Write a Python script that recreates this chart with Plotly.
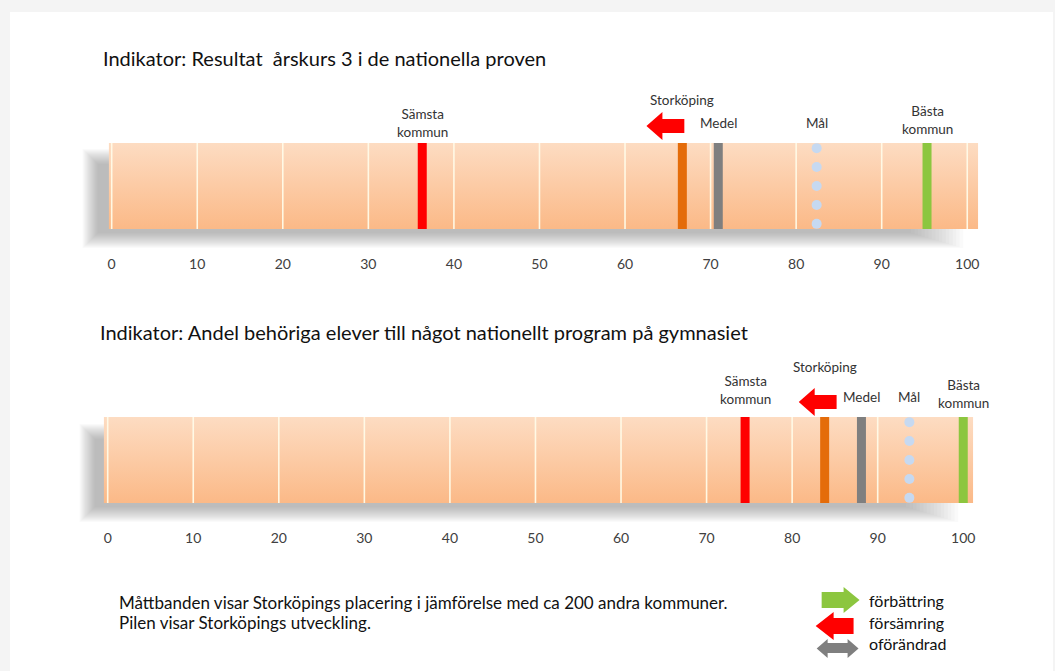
import numpy as np
import plotly.graph_objects as go

W, H = 1055, 671

# ---------------- data ----------------
categories = ["Sämsta kommun", "Storköping", "Medel", "Mål", "Bästa kommun"]
cat_labels = ["Sämsta<br>kommun", "Storköping", "Medel", "Mål", "Bästa<br>kommun"]
panel1_values = [36.3, 66.7, 70.9, 82.4, 95.3]
panel2_values = [74.5, 83.8, 88.1, 93.7, 100.0]
panel_trends = ["försämring", "försämring"]
tick_values = list(range(0, 101, 10))
tick_labels = [str(v) for v in tick_values]
titles = ["Indikator: Resultat\u00a0 årskurs 3 i de nationella proven",
          "Indikator: Andel behöriga elever till något nationellt program på gymnasiet"]
legend_items = ["förbättring", "försämring", "oförändrad"]
note_lines = ["Måttbanden visar Storköpings placering i jämförelse med ca 200 andra kommuner.",
              "Pilen visar Storköpings utveckling."]

# ---------------- style ----------------
FONT = "Lato"
mark_colors = {"Sämsta kommun": "#ff0000", "Storköping": "#e46c0a", "Medel": "#7f7f7f",
               "Mål": "#c6d9f1", "Bästa kommun": "#8cc63f"}
trend_colors = {"förbättring": "#8cc63f", "försämring": "#ff0000", "oförändrad": "#7f7f7f"}
SCALE = 8.58  # pixels per unit

panels = [
    dict(values=panel1_values, bar=(108, 980, 143, 229), zero=111, title=(100, 58),
         label_y=[123, 100, 123, 123, 120], arrow=(2, 3), shadow=(82, 965, 149, 248)),
    dict(values=panel2_values, bar=(103, 975, 417, 503), zero=107, title=(97, 332),
         label_y=[389.5, 367, 397, 397, 393.5], arrow=(12, 1), shadow=(79, 960, 424, 522)),
]


def px(x):
    return x / W


def py(y):
    return 1 - y / H


fig = go.Figure()
shapes = []
annotations = []

# slide frame
shapes.append(dict(type="rect", xref="paper", yref="paper", x0=px(9), x1=1.0, y0=0.0, y1=py(12),
                   fillcolor="white", line=dict(width=0), layer="below"))

for i, p in enumerate(panels):
    sfx = "" if i == 0 else str(i + 1)
    xref, yref = "x" + sfx, "y" + sfx
    bl, br, bt, bb = p["bar"]
    r0 = (bl - p["zero"]) / SCALE
    r1 = (br - p["zero"]) / SCALE

    # soft drop shadow (layered translucent rectangles)
    sl, sr, st, sb = p["shadow"]
    for k in range(16):
        d = k * 1.0
        shapes.append(dict(type="rect", xref="paper", yref="paper",
                           x0=px(sl + d), x1=px(sr - d * 3.5), y0=py(sb - d), y1=py(st + d),
                           fillcolor="rgba(110,115,122,0.036)", line=dict(width=0), layer="below"))

    # band
    fig.add_trace(go.Scatter(x=[r0, r1, r1, r0, r0], y=[0, 0, 1, 1, 0], mode="lines",
                             fill="toself", line=dict(width=0, color="rgba(0,0,0,0)"),
                             fillgradient=dict(type="vertical",
                                               colorscale=[[0, "#fbb987"], [1, "#fddcc2"]]),
                             hoverinfo="skip", showlegend=False, xaxis=xref, yaxis=yref))
    # white scale lines
    gx, gy = [], []
    for t in tick_values:
        gx += [t, t, None]
        gy += [0, 1, None]
    fig.add_trace(go.Scatter(x=gx, y=gy, mode="lines",
                             line=dict(width=1.6, color="rgba(255,251,232,0.95)"),
                             hoverinfo="skip", showlegend=False, xaxis=xref, yaxis=yref))
    # marks
    for cat, v in zip(categories, p["values"]):
        if cat == "Mål":
            n = 5
            fig.add_trace(go.Scatter(x=[v] * n, y=np.linspace(0.06, 0.94, n), mode="markers",
                                     marker=dict(size=10, color=mark_colors[cat], line=dict(width=0)),
                                     name=cat, showlegend=False, xaxis=xref, yaxis=yref))
        else:
            fig.add_trace(go.Scatter(x=[v, v], y=[0, 1], mode="lines",
                                     line=dict(width=9, color=mark_colors[cat]),
                                     name=cat, showlegend=False, xaxis=xref, yaxis=yref))

    # labels
    for cat, lab, v, ly in zip(categories, cat_labels, p["values"], p["label_y"]):
        annotations.append(dict(x=v, xref=xref, y=py(ly), yref="paper", text=lab,
                                showarrow=False, xanchor="center", yanchor="middle",
                                font=dict(family=FONT, size=13.5, color="#333333")))

    # trend arrow for Storköping (x in data units, y in paper units)
    dx, dy = p["arrow"]
    sv = p["values"][categories.index("Storköping")]
    ybot = bt - dy

    def ax(off):
        return sv + off / SCALE

    tip = dx - 38
    hb = tip + 16
    pts = [(ax(dx), py(ybot - 7)), (ax(hb), py(ybot - 7)), (ax(hb), py(ybot)),
           (ax(tip), py(ybot - 14)), (ax(hb), py(ybot - 28)), (ax(hb), py(ybot - 21)),
           (ax(dx), py(ybot - 21))]
    path = "M" + " L".join(f"{a:.4f},{b:.5f}" for a, b in pts) + " Z"
    shapes.append(dict(type="path", xref=xref, yref="paper", path=path,
                       fillcolor=trend_colors[panel_trends[i]], line=dict(width=0), layer="above"))

    # title
    tx, ty = p["title"]
    annotations.append(dict(x=px(tx), y=py(ty), xref="paper", yref="paper", text=titles[i],
                            showarrow=False, xanchor="left", yanchor="middle",
                            font=dict(family=FONT, size=20, color="#111111")))

    # axes
    fig.update_layout(**{
        "xaxis" + sfx: dict(domain=[px(bl), px(br)], range=[r0, r1], tickvals=tick_values,
                            ticktext=tick_labels, showgrid=False, zeroline=False, showline=False,
                            ticks="", ticklabelstandoff=25, fixedrange=True,
                            tickfont=dict(family=FONT, size=14, color="#404040"),
                            anchor=yref),
        "yaxis" + sfx: dict(domain=[py(bb), py(bt)], range=[0, 1], visible=False,
                            fixedrange=True, anchor=xref),
    })

# bottom note
for j, line in enumerate(note_lines):
    annotations.append(dict(x=px(116), y=py(602 + 20 * j), xref="paper", yref="paper", text=line,
                            showarrow=False, xanchor="left", yanchor="middle",
                            font=dict(family=FONT, size=17, color="#111111")))


# legend arrows
def ppath(pts):
    return "M" + " L".join(f"{px(x):.5f},{py(y):.5f}" for x, y in pts) + " Z"


leg_paths = {
    "förbättring": [(823, 592), (845, 592), (845, 587), (861, 600), (845, 613), (845, 608), (823, 608)],
    "försämring": [(855, 618), (835, 618), (835, 612), (817, 626), (835, 640), (835, 634), (855, 634)],
    "oförändrad": [(818, 648.5), (829, 639), (829, 643), (849, 643), (849, 639), (860, 648.5),
                   (849, 658), (849, 653), (829, 653), (829, 658)],
}
leg_text_y = [600, 622, 643]
for item, ty in zip(legend_items, leg_text_y):
    shapes.append(dict(type="path", xref="paper", yref="paper", path=ppath(leg_paths[item]),
                       fillcolor=trend_colors[item], line=dict(width=0)))
    annotations.append(dict(x=px(868), y=py(ty), xref="paper", yref="paper", text=item,
                            showarrow=False, xanchor="left", yanchor="middle",
                            font=dict(family=FONT, size=16, color="#111111")))

fig.update_layout(width=W, height=H, margin=dict(l=0, r=0, t=0, b=0),
                  paper_bgcolor="#f4f4f4", plot_bgcolor="rgba(0,0,0,0)",
                  shapes=shapes, annotations=annotations, showlegend=False,
                  font=dict(family=FONT))

fig.write_html("out.html")
